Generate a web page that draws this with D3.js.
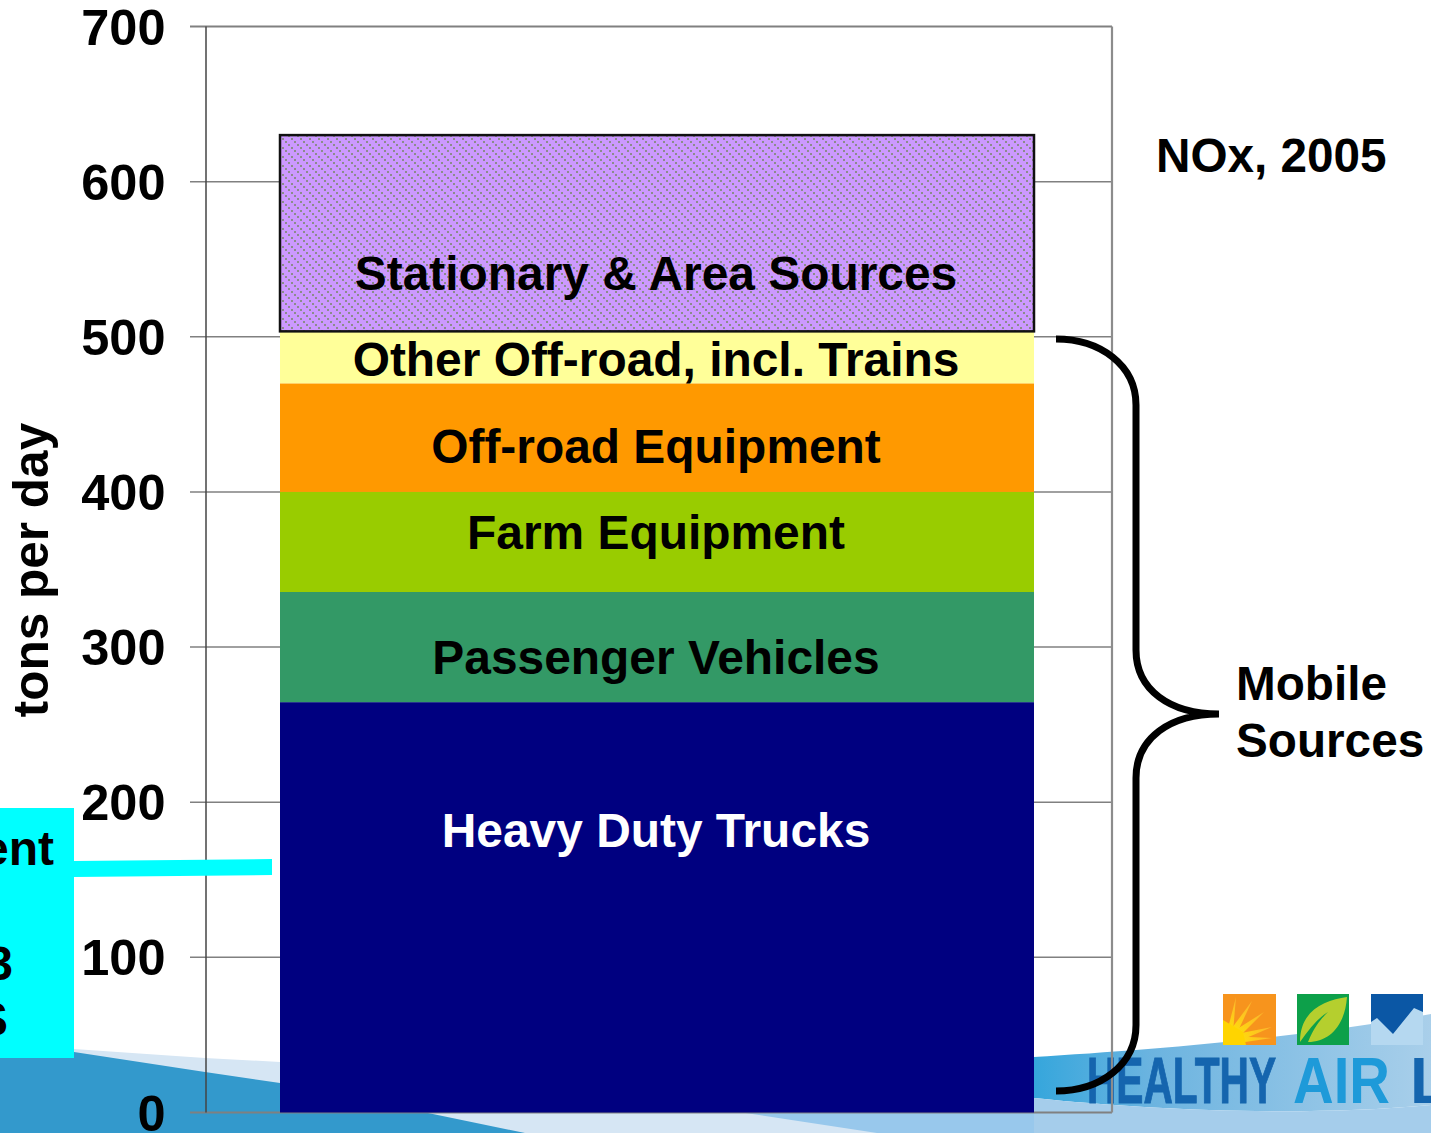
<!DOCTYPE html>
<html><head><meta charset="utf-8">
<script src="https://cdn.jsdelivr.net/npm/d3@7"></script>
<style>html,body{margin:0;padding:0;background:#fff}svg{display:block}text{font-family:"Liberation Sans",Arial,sans-serif;font-weight:700}</style>
</head><body><script>
const tickValues=[0,100,200,300,400,500,600,700];
const categories=["Heavy Duty Trucks","Passenger Vehicles","Farm Equipment","Off-road Equipment","Other Off-road, incl. Trains","Stationary & Area Sources"];
const seriesValues=[264.5,71,64.5,70,33.5,126.5];
const seriesColors=["#000080","#339966","#99CC00","#FF9900","#FFFF99","#CC99FF"];
const labelColors=["#fff","#000","#000","#000","#000","#000"];
const labelBaselines=[847,674,549,463,376,290];
const W=1431,H=1133;
const svg=d3.select("body").append("svg").attr("width",W).attr("height",H);
const y=d3.scaleLinear().domain([0,700]).range([1112.5,26.5]);
const defs=svg.append("defs");
const pat=defs.append("pattern").attr("id","hatch").attr("patternUnits","userSpaceOnUse").attr("width",9).attr("height",9);
pat.append("rect").attr("width",9).attr("height",9).attr("fill","#CC99FF");
for(let i=0;i<9;i+=3)pat.append("rect").attr("x",i).attr("y",i).attr("width",2).attr("height",2).attr("fill","#8C8C8C").attr("shape-rendering","crispEdges");
const g1=defs.append("linearGradient").attr("id","band").attr("gradientUnits","userSpaceOnUse").attr("x1",1034).attr("x2",1431).attr("y1",0).attr("y2",0);
g1.append("stop").attr("offset",0).attr("stop-color","#35A6DC");
g1.append("stop").attr("offset",0.3).attr("stop-color","#6CB4E0");
g1.append("stop").attr("offset",1).attr("stop-color","#A9CFEA");
const sun=defs.append("radialGradient").attr("id","sun").attr("gradientUnits","userSpaceOnUse").attr("cx",1230).attr("cy",1040).attr("r",48);
sun.append("stop").attr("offset",0).attr("stop-color","#FFE600");
sun.append("stop").attr("offset",1).attr("stop-color","#FBB034");
const bg=svg.append("g");
// background swoosh
bg.append("path").attr("d","M0,1047 L74,1049 L205,1058 L280,1062 L1034,1112 L1034,1133 L0,1133Z").attr("fill","#D6E6F4");
bg.append("path").attr("d","M739,1112 L1034,1112 L1034,1133 L877,1133Z").attr("fill","#98C8EC");
bg.append("path").attr("d","M0,1048 L74,1052 L205,1072 L280,1083 L428,1113 L525,1133 L0,1133Z").attr("fill","#3399CC");
bg.append("path").attr("d","M1034,1057 C1150,1050 1300,1038 1431,1014 L1431,1105 C1300,1117 1150,1110 1034,1098Z").attr("fill","url(#band)");
bg.append("path").attr("d","M1034,1098 C1150,1110 1300,1117 1431,1105 L1431,1133 L1034,1133Z").attr("fill","#A5CDEB");
// logo
const logo=svg.append("g");
logo.append("rect").attr("x",1223).attr("y",994).attr("width",53).attr("height",51).attr("fill","#F7941D");
logo.selectAll("path.ray").data([[1236,997],[1252,1001],[1264,1012],[1272,1027],[1272,1038]]).join("path").attr("class","ray")
 .attr("d",d=>d3.line()([[1226,1036],d,[1232,1044]])).attr("fill","url(#sun)");
logo.append("path").attr("d","M1223,1020 L1243,1032 L1246,1045 L1223,1045Z").attr("fill","#FFD400");
logo.append("rect").attr("x",1297).attr("y",994).attr("width",52).attr("height",51).attr("fill","#0DA04A");
logo.append("path").attr("d","M1300,1042 C1300,1010 1325,1000 1347,997 C1345,1025 1330,1042 1308,1042 C1315,1025 1322,1018 1328,1012 C1318,1018 1310,1028 1300,1042Z").attr("fill","#B5CF2E");
logo.append("rect").attr("x",1371).attr("y",994).attr("width",52).attr("height",51).attr("fill","#B5D8F0");
logo.append("path").attr("d","M1371,994 L1423,994 L1423,1012 L1414,1008 L1393,1034 L1377,1018 L1371,1022Z").attr("fill","#0B57A5");
svg.append("text").attr("x",1087).attr("y",1103).attr("font-size",64).attr("textLength",189).attr("lengthAdjust","spacingAndGlyphs").attr("fill","#1565AE").attr("stroke","#1565AE").attr("stroke-width",1).text("HEALTHY");
svg.append("text").attr("x",1293).attr("y",1103).attr("font-size",64).attr("textLength",97).attr("lengthAdjust","spacingAndGlyphs").attr("fill","#1E9AD9").text("AIR");
svg.append("text").attr("x",1410).attr("y",1103).attr("font-size",64).attr("fill","#1565AE").text("L");
// plot frame and grid
const left=206,right=1112;
const grid=svg.append("g");
grid.selectAll("line.g").data(tickValues).join("line").attr("class","g")
 .attr("x1",190).attr("x2",right).attr("y1",d=>y(d)).attr("y2",d=>y(d)).attr("stroke","#808080").attr("stroke-width",d=>d===0||d===700?2.2:1.5);
grid.append("line").attr("x1",left).attr("x2",left).attr("y1",y(700)).attr("y2",y(0)).attr("stroke","#444").attr("stroke-width",1.5);
grid.append("line").attr("x1",right).attr("x2",right).attr("y1",y(700)).attr("y2",y(0)).attr("stroke","#8c8c8c").attr("stroke-width",2.2);
svg.selectAll("text.tick").data(tickValues).join("text").attr("class","tick")
 .attr("x",165.5).attr("y",d=>y(d)+18).attr("text-anchor","end").attr("font-size",50.5).attr("fill","#000").text(d=>d);
// stacked bar
const stack=d3.stack().keys(categories)([Object.fromEntries(categories.map((c,i)=>[c,seriesValues[i]]))]);
svg.selectAll("rect.seg").data(stack).join("rect").attr("class","seg")
 .attr("x",280).attr("width",754)
 .attr("y",d=>y(d[0][1])).attr("height",d=>y(d[0][0])-y(d[0][1]))
 .attr("fill",(d,i)=>i===5?"url(#hatch)":seriesColors[i])
 .attr("stroke",(d,i)=>i===5?"#111":"none").attr("stroke-width",2.5);
svg.selectAll("text.lab").data(categories).join("text").attr("class","lab")
 .attr("x",656).attr("y",(d,i)=>labelBaselines[i]).attr("text-anchor","middle").attr("font-size",47.9)
 .attr("fill",(d,i)=>labelColors[i]).text(d=>d);
// axis title
svg.append("text").attr("transform","translate(48,570) rotate(-90)").attr("text-anchor","middle").attr("font-size",49.5).text("tons per day");
// annotations
svg.append("text").attr("x",1156).attr("y",172).attr("font-size",47.7).text("NOx, 2005");
svg.append("text").attr("x",1236).attr("y",700).attr("font-size",47.7).text("Mobile");
svg.append("text").attr("x",1236).attr("y",757).attr("font-size",47.7).text("Sources");
svg.append("path").attr("d","M1056,339 C1100,339 1136,365 1136,405 L1136,650 C1136,690 1170,714 1219,714 C1170,714 1136,738 1136,778 L1136,1025 C1136,1065 1100,1091 1056,1091")
 .attr("fill","none").attr("stroke","#000").attr("stroke-width",7);
// callout box cut off on the left
svg.append("rect").attr("x",0).attr("y",808).attr("width",74).attr("height",250).attr("fill","#00FFFF");
svg.append("path").attr("d","M74,861 L272,859 L272,875 L74,877Z").attr("fill","#00FFFF");
svg.append("text").attr("x",54).attr("y",865).attr("text-anchor","end").attr("font-size",48).text("ent");
svg.append("text").attr("x",13).attr("y",980).attr("text-anchor","end").attr("font-size",48).text("3");
svg.append("text").attr("x",8).attr("y",1036).attr("text-anchor","end").attr("font-size",48).text("S");
</script></body></html>
